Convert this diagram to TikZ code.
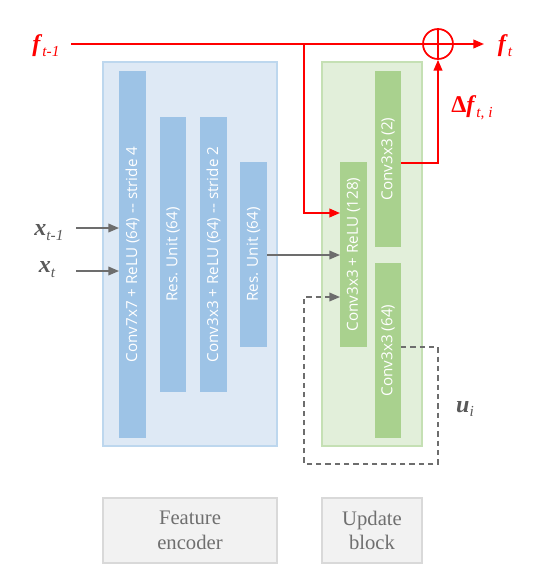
\documentclass[tikz,border=0pt]{standalone}
\usepackage{fontspec}
\setmainfont{Liberation Serif}
\newfontfamily\barfont{Open Sans}
\usetikzlibrary{arrows.meta}
\definecolor{encfill}{HTML}{DEE9F5}
\definecolor{encdraw}{HTML}{BDD7EE}
\definecolor{encbar}{HTML}{9DC3E6}
\definecolor{updfill}{HTML}{E2EFDA}
\definecolor{upddraw}{HTML}{C5E0B4}
\definecolor{updbar}{HTML}{A9D18E}
\definecolor{arrgray}{HTML}{6D6D6D}
\definecolor{lblgray}{HTML}{595959}
\definecolor{capfill}{HTML}{F2F2F2}
\definecolor{capdraw}{HTML}{D9D9D9}
\definecolor{captext}{HTML}{6F6F6F}
\newcommand{\mysub}[1]{\raisebox{-0.45ex}{\fontsize{11.5}{12}\selectfont\itshape #1}}
\begin{document}
\begin{tikzpicture}[x=0.75pt,y=-0.75pt,
  barlabel/.style={font=\barfont\fontsize{11.4}{13}\selectfont,text=white,rotate=90},
  garrow/.style={draw=arrgray,line width=1.1pt,-{Triangle[length=8pt,width=6.5pt]}},
  rarrow/.style={draw=red,line width=1.3pt,-{Triangle[length=8pt,width=6.5pt]}},
  rline/.style={draw=red,line width=1.3pt},
  darrow/.style={draw=arrgray,line width=1.1pt,dashed,dash pattern=on 4pt off 3pt,-{Triangle[length=8pt,width=6.5pt]}},
  flbl/.style={text=red,font=\fontsize{18}{20}\selectfont},
  xlbl/.style={text=lblgray,font=\fontsize{18}{20}\selectfont},
  capbox/.style={draw=capdraw,fill=capfill,line width=0.8pt,text=captext,align=center,font=\fontsize{15.5}{18.5}\selectfont}
]
\useasboundingbox (0,0) rectangle (555,579);
% containers
\draw[draw=encdraw,fill=encfill,line width=1pt] (103,62) rectangle (277,446);
\draw[draw=upddraw,fill=updfill,line width=1pt] (322,62) rectangle (422,446);
% encoder bars
\fill[encbar] (119,71) rectangle (146,438);
\fill[encbar] (160,117) rectangle (186,392);
\fill[encbar] (200,117) rectangle (227,392);
\fill[encbar] (240,162) rectangle (267,347);
\node[barlabel] (e1) at (132.5,254.5) {Conv7x7 + ReLU (64) -- stride 4};
\node[barlabel] (e2) at (173,254.5) {Res. Unit (64)};
\node[barlabel] (e3) at (213.5,254.5) {Conv3x3 + ReLU (64) -- stride 2};
\node[barlabel] (e4) at (253.5,254.5) {Res. Unit (64)};
% update bars
\fill[updbar] (340,162) rectangle (367,347);
\fill[updbar] (375,71) rectangle (401,247);
\fill[updbar] (375,263) rectangle (401,438);
\node[barlabel] (ua) at (353.5,254.5) {Conv3x3 + ReLU (128)};
\node[barlabel] (ub) at (388,159) {Conv3x3 (2)};
\node[barlabel] (uc) at (388,350.5) {Conv3x3 (64)};
% coordinates
\coordinate (fstart) at (71,44);
\coordinate (tap) at (304,44);
\coordinate (tapdown) at (304,213);
\coordinate (ain) at (340,213);
\coordinate (ain2) at (340,255);
\coordinate (ain3) at (340,297);
\coordinate (eout) at (267,255);
\coordinate (bout) at (401,163);
\coordinate (bcorner) at (438,163);
\coordinate (cout) at (401,347);
\coordinate (d1) at (438,347);
\coordinate (d2) at (438,464);
\coordinate (d3) at (304,464);
\coordinate (d4) at (304,297);
\coordinate (x1s) at (76,228);
\coordinate (x1e) at (119,228);
\coordinate (x2s) at (76,271);
\coordinate (x2e) at (119,271);
\coordinate (fend) at (484,44);
% sum node
\node[draw=red,line width=1.3pt,circle,minimum size=22.5pt,inner sep=0pt] (sum) at (438,44) {};
\draw[red,line width=1.3pt] (sum.north) -- (sum.south) (sum.west) -- (sum.east);
% red lines
\draw[rline] (fstart) -- (sum.west);
\draw[rarrow] (sum.east) -- (fend);
\draw[rarrow] (tap) -- (tapdown) -- (ain);
\draw[rarrow] (bout) -- (bcorner) -- (sum.south);
% gray arrows
\draw[garrow] (x1s) -- (x1e);
\draw[garrow] (x2s) -- (x2e);
\draw[garrow] (eout) -- (ain2);
\draw[darrow] (cout) -- (d1) -- (d2) -- (d3) -- (d4) -- (ain3);
% labels
\node[flbl] (lf1) at (46,46) {\textbf{\textit{f}}\mysub{t-1}};
\node[flbl] (lft) at (505,46) {\textbf{\textit{f}}\mysub{t}};
\node[flbl] (ldf) at (472,108) {\textbf{Δ\textit{f}}\mysub{t, i}};
\node[xlbl] (lx1) at (49,233) {\textbf{\textit{x}}\mysub{t-1}};
\node[xlbl] (lx2) at (47,270) {\textbf{\textit{x}}\mysub{t}};
\node[xlbl] (lu) at (465,409) {\textbf{\textit{u}}\mysub{i}};
% caption boxes
\node[capbox,minimum width=174*0.75pt,minimum height=65*0.75pt] (cap1) at (190,530.5) {Feature\\encoder};
\node[capbox,minimum width=100*0.75pt,minimum height=65*0.75pt] (cap2) at (372,530.5) {Update\\block};
\end{tikzpicture}
\end{document}
